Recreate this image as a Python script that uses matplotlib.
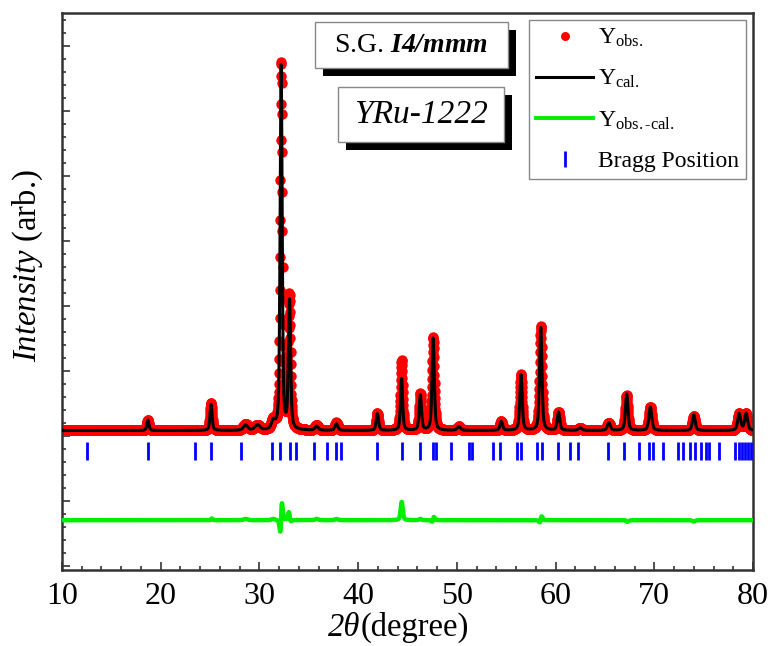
import matplotlib
matplotlib.use("Agg")
import matplotlib.pyplot as plt
import numpy as np
from matplotlib.patches import Rectangle
from matplotlib.lines import Line2D
from matplotlib.ticker import MultipleLocator

plt.rcParams['font.family'] = ['Liberation Serif', 'DejaVu Serif']
plt.rcParams['mathtext.fontset'] = 'custom'
plt.rcParams['mathtext.rm'] = 'Liberation Serif'
plt.rcParams['mathtext.it'] = 'Liberation Serif:italic'
plt.rcParams['mathtext.bf'] = 'Liberation Serif:bold'
plt.rcParams['mathtext.bfit'] = 'Liberation Serif:bold:italic'

# reflections: position (2theta), calc. height, obs. height, fwhm, obs shift
peak_pos = [18.7, 25.1, 28.6, 29.8, 31.4, 32.2, 33.05, 35.8, 37.8, 41.95,
            44.4, 46.3, 47.6, 50.2, 54.5, 56.5, 58.5, 60.3, 62.5, 65.4,
            67.2, 69.6, 74.0, 78.6, 79.3]
peak_cal = [8, 20, 4, 4, 6, 280, 99, 3, 5, 13,
            40, 27, 71, 3, 7, 43, 79, 14, 2, 6,
            28, 18, 12, 13, 13]
peak_obs = [8, 21, 5, 4, 7, 283, 103, 4, 6, 13,
            54, 28, 72, 3, 7, 43, 80, 14, 2, 6,
            27, 18, 11, 13, 13]
peak_fwhm = [0.25, 0.25, 0.5, 0.6, 0.4, 0.24, 0.26, 0.4, 0.35, 0.28,
             0.25, 0.27, 0.27, 0.4, 0.3, 0.28, 0.28, 0.3, 0.4, 0.35,
             0.3, 0.34, 0.32, 0.35, 0.35]
peak_shift = [0, 0.005, 0, 0, 0, 0.007, -0.006, 0, 0, 0,
              0.003, 0, 0.005, 0, 0, 0, 0.006, 0, 0, 0,
              -0.004, 0, 0, 0, 0]
background = 104
diff_offset = 35
bragg_y = 88

bragg_pos = [12.5, 18.7, 23.5, 25.1, 28.1, 31.3, 32.1, 33.1, 33.7, 35.5,
             36.8, 37.8, 38.3, 41.95, 44.4, 46.3, 47.6, 47.9, 49.4, 51.2,
             51.5, 53.7, 54.4, 56.1, 56.5, 58.1, 58.6, 60.2, 61.5, 62.3,
             65.3, 66.9, 68.5, 69.5, 69.9, 70.9, 72.4, 72.9, 73.6, 74.1,
             74.7, 75.2, 75.5, 76.6, 78.2, 78.6, 78.9, 79.2, 79.5, 79.8]

two_theta = np.arange(10, 80.001, 0.02)


def pvoigt(x, x0, h, w, eta=0.5):
    d = ((x - x0) / w) ** 2
    return h * (eta / (1 + 4 * d) + (1 - eta) * np.exp(-4 * np.log(2) * d))


y_cal = np.full_like(two_theta, background, dtype=float)
y_obs = np.full_like(two_theta, background, dtype=float)
for p, hc, ho, w, s in zip(peak_pos, peak_cal, peak_obs, peak_fwhm, peak_shift):
    y_cal += pvoigt(two_theta, p, hc, w)
    y_obs += pvoigt(two_theta, p + s, ho, w)
y_diff = y_obs - y_cal + diff_offset

W, H = 770, 646
fig = plt.figure(figsize=(7.7, 6.46), dpi=100)
ax = fig.add_axes([62 / W, 1 - 570 / H, (753 - 62) / W, (570 - 12.7) / H])

ax.plot(two_theta, y_obs, 'o', color='red', markersize=7.5, markeredgewidth=0, zorder=2)
ax.plot(two_theta, y_cal, '-', color='black', lw=2.2, zorder=3)
ax.plot(two_theta, y_diff, '-', color='#00ee00', lw=3.2, zorder=3)
ax.plot(bragg_pos, [bragg_y] * len(bragg_pos), '|', color='blue',
        markersize=13, markeredgewidth=2, zorder=3)

ax.set_xlim(10, 80)
ax.set_ylim(-3.3, 425.4)
ax.xaxis.set_major_locator(MultipleLocator(10))
ax.xaxis.set_minor_locator(MultipleLocator(2))
ax.yaxis.set_major_locator(MultipleLocator(50))
ax.yaxis.set_minor_locator(MultipleLocator(10))
ax.set_yticklabels([])
ax.tick_params(which='both', direction='in', color='#333333', width=1.2)
ax.tick_params(which='major', length=5.5)
ax.tick_params(which='minor', length=3)
ax.tick_params(axis='x', labelsize=23, pad=9)
for sp in ax.spines.values():
    sp.set_linewidth(1.8)
    sp.set_color('#333333')

# axis titles (italic parts set separately)
fig.text(360 / W, 1 - 636 / H, '2θ', fontsize=23.5, style='italic', ha='right', va='baseline')
fig.text(361 / W, 1 - 636 / H, '(degree)', fontsize=23.5, ha='left', va='baseline')
fig.text(28 / W, 1 - 266 / H, r'$\mathit{Intensity}$ (arb.)', fontsize=23.5,
         rotation=90, ha='center', va='center')

handles = [
    Line2D([], [], ls='none', marker='o', color='red', markersize=6.5, markeredgewidth=0),
    Line2D([], [], color='black', lw=2.2),
    Line2D([], [], color='#00ee00', lw=2.8),
    Line2D([], [], ls='none', marker='|', color='blue', markersize=12, markeredgewidth=2),
]
labels = [r'Y$_{\mathrm{obs.}}$', r'Y$_{\mathrm{cal.}}$', 'Y$_{\\mathrm{obs.\u2010cal.}}$',
          'Bragg Position']
leg = ax.legend(handles, labels, loc='upper right', fontsize=17, frameon=True,
                fancybox=False, edgecolor='#888888', framealpha=1,
                borderaxespad=0.3, handlelength=2.4, handletextpad=0.2,
                labelspacing=0.8, borderpad=0.3)
leg.get_frame().set_linewidth(1.0)


def shadow_box(x0, y0, x1, y1, text, size, off=8, **kw):
    # pixel coordinates measured from top-left of the figure
    fig.add_artist(Rectangle(((x0 + off) / W, 1 - (y1 + off) / H), (x1 - x0) / W,
                             (y1 - y0) / H, transform=fig.transFigure,
                             facecolor='black', edgecolor='none', zorder=5))
    fig.add_artist(Rectangle((x0 / W, 1 - y1 / H), (x1 - x0) / W, (y1 - y0) / H,
                             transform=fig.transFigure, facecolor='white',
                             edgecolor='#888888', lw=1.0, zorder=6))
    fig.text((x0 + x1) / 2 / W, 1 - (y0 + y1) / 2 / H, text, fontsize=size,
             ha='center', va='center', zorder=7, **kw)


shadow_box(315, 22, 508, 68, r'S.G. $\mathbfit{I4/mmm}$', 20)
shadow_box(338, 87, 504, 142, 'YRu-1222', 24, style='italic')

fig.savefig('out.png', dpi=100)
